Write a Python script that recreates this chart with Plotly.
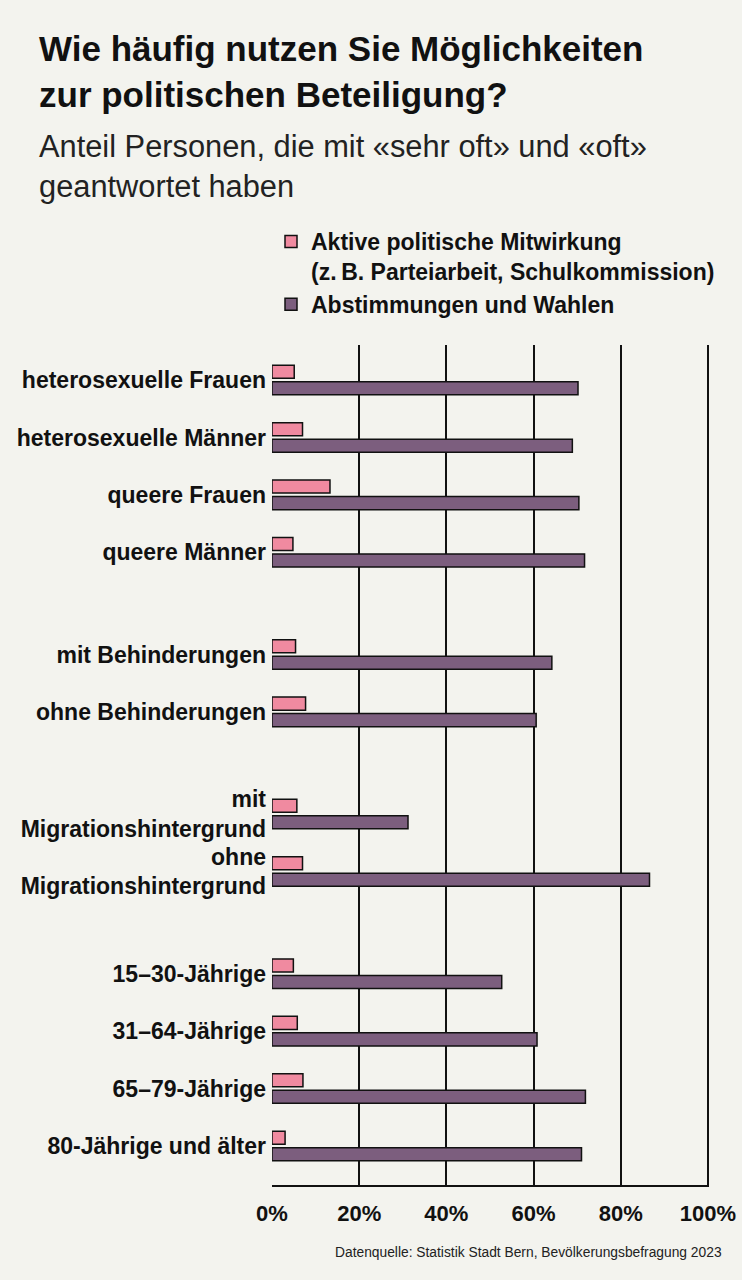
import plotly.graph_objects as go

# ---- data ----
categories = [
    "heterosexuelle Frauen", "heterosexuelle Männer", "queere Frauen", "queere Männer",
    "mit Behinderungen", "ohne Behinderungen",
    "mit<br>Migrationshintergrund", "ohne<br>Migrationshintergrund",
    "15\u201330-Jährige", "31\u201364-Jährige", "65\u201379-Jährige", "80-Jährige und älter",
]
group_of = [0, 0, 0, 0, 1, 1, 2, 2, 3, 3, 3, 3]
aktive = [5.1, 7.0, 13.3, 4.8, 5.4, 7.7, 5.7, 7.0, 4.9, 5.8, 7.1, 3.0]
abstimmungen = [70.2, 68.9, 70.4, 71.7, 64.2, 60.6, 31.2, 86.6, 52.7, 60.8, 71.9, 71.0]
series_names = [
    "Aktive politische Mitwirkung<br>(z.\u202fB. Parteiarbeit, Schulkommission)",
    "Abstimmungen und Wahlen",
]
x_tickvals = [0, 20, 40, 60, 80, 100]
x_ticktext = ["0%", "20%", "40%", "60%", "80%", "100%"]

# ---- layout helpers ----
W, H = 742, 1280
L, R, T, B = 272, 33, 345, 95
GAP = 0.78
pos = [i + g * GAP for i, g in enumerate(group_of)]

def px_x(x):
    return (x - L) / (W - L - R)

def px_y(y):
    return (H - B - y) / (H - T - B)

FONT = "Liberation Sans, Arial, sans-serif"
BG = "#F3F3EE"
PINK = "#F08AA0"
PURPLE = "#7C5E7E"
INK = "#111111"

fig = go.Figure()
fig.add_trace(go.Bar(
    y=pos, x=aktive, orientation="h", name=series_names[0],
    marker=dict(color=PINK, line=dict(color=INK, width=1.5)),
))
fig.add_trace(go.Bar(
    y=pos, x=abstimmungen, orientation="h", name=series_names[1],
    marker=dict(color=PURPLE, line=dict(color=INK, width=1.5)),
))

fig.update_layout(
    width=W, height=H,
    margin=dict(l=L, r=R, t=T, b=B, autoexpand=False),
    paper_bgcolor=BG, plot_bgcolor=BG,
    barmode="group", bargap=0.425, bargroupgap=0.21,
    font=dict(family=FONT, color=INK),
    showlegend=True,
    legend=dict(
        x=px_x(271), y=px_y(220), xanchor="left", yanchor="top",
        xref="paper", yref="paper",
        font=dict(size=23, family=FONT, color=INK, weight="bold"),
        bgcolor="rgba(0,0,0,0)", traceorder="normal", tracegroupgap=4,
        valign="top",
    ),
    xaxis=dict(
        range=[0, 100.25], tickvals=x_tickvals, ticktext=x_ticktext,
        showgrid=True, gridcolor=INK, gridwidth=2,
        zeroline=False, showline=True, linecolor=INK, linewidth=2,
        ticks="outside", ticklen=8, tickcolor="rgba(0,0,0,0)",
        tickfont=dict(size=22, family=FONT, color=INK, weight="bold"),
        fixedrange=True,
    ),
    yaxis=dict(
        range=[pos[-1] + 0.68, -0.61],
        tickvals=pos, ticktext=categories,
        showgrid=False, zeroline=False, showline=False, ticks="",
        ticklabelstandoff=5,
        tickfont=dict(size=23, family=FONT, color=INK, weight="bold"),
        fixedrange=True,
    ),
    annotations=[
        dict(text="Wie häufig nutzen Sie Möglichkeiten<br>zur politischen Beteiligung?",
             x=px_x(37), y=px_y(27), xref="paper", yref="paper",
             xanchor="left", yanchor="top", align="left", showarrow=False,
             font=dict(size=35, family=FONT, color=INK, weight="bold")),
        dict(text="Anteil Personen, die mit «sehr oft» und «oft»<br>geantwortet haben",
             x=px_x(37), y=px_y(127), xref="paper", yref="paper",
             xanchor="left", yanchor="top", align="left", showarrow=False,
             font=dict(size=30.8, family=FONT, color="#222222")),
        dict(text="Datenquelle: Statistik Stadt Bern, Bevölkerungsbefragung 2023",
             x=px_x(724), y=px_y(1252), xref="paper", yref="paper",
             xanchor="right", yanchor="middle", align="right", showarrow=False,
             font=dict(size=13.8, family=FONT, color="#222222")),
    ],
)

fig.write_html("out.html", config={"displayModeBar": False},
               post_script="document.body.style.margin='0';")
